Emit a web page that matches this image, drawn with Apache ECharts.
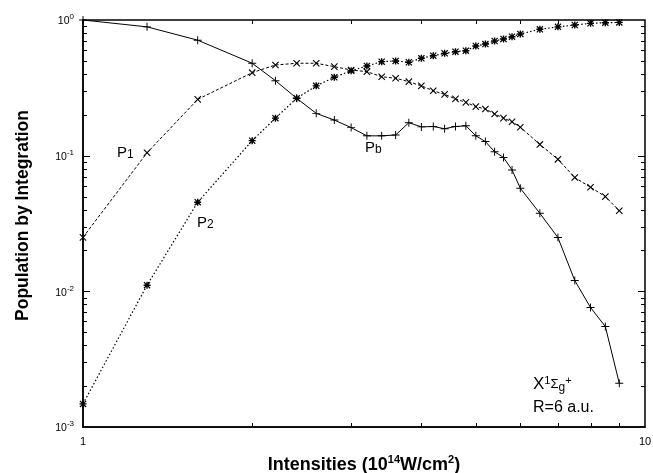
<!DOCTYPE html>
<html><head><meta charset="utf-8">
<script src="https://cdn.jsdelivr.net/npm/echarts@6/dist/echarts.min.js"></script>
<style>html,body{margin:0;padding:0;background:#fff}#c{width:653px;height:473px}</style>
</head><body><div id="c"></div>
<script>
// ---- data ----
const intensities = [1.0,1.3,1.6,2.0,2.2,2.4,2.6,2.8,3.0,3.2,3.4,3.6,3.8,4.0,4.2,4.4,4.6,4.8,5.0,5.2,5.4,5.6,5.8,6.0,6.5,7.0,7.5,8.0,8.5,9.0];
const pb = [1.0,0.89,0.71,0.48,0.357,0.265,0.205,0.183,0.161,0.140,0.140,0.142,0.175,0.163,0.164,0.158,0.164,0.166,0.140,0.127,0.107,0.097,0.0785,0.0575,0.0376,0.0249,0.0120,0.0076,0.0055,0.0021];
const p1 = [0.025,0.105,0.26,0.409,0.466,0.48,0.48,0.453,0.428,0.416,0.382,0.372,0.351,0.327,0.301,0.283,0.262,0.247,0.230,0.221,0.203,0.189,0.178,0.162,0.121,0.094,0.069,0.0585,0.0499,0.0393];
const p2 = [0.00148,0.0111,0.0454,0.129,0.189,0.265,0.327,0.378,0.423,0.458,0.493,0.499,0.488,0.522,0.546,0.568,0.584,0.594,0.643,0.665,0.70,0.725,0.753,0.789,0.854,0.89,0.919,0.945,0.955,0.96];
const xMinorTicks = [2,3,4,5,6,7,8,9];
const yMajorTicks = [0.01,0.1];
const yMinorTicks = [0.002,0.003,0.004,0.005,0.006,0.007,0.008,0.009,0.02,0.03,0.04,0.05,0.06,0.07,0.08,0.09,0.2,0.3,0.4,0.5,0.6,0.7,0.8,0.9];
const xTitle = '{t|Intensities (10}{s|14}{t|W/cm}{s|2}{t|)}';
const yTitle = 'Population by Integration';
const annotations = [
  {coord:[1.15,0.1047], text:'{m|P}{sub|1}'},
  {coord:[1.595,0.0319], text:'{m|P}{sub|2}'},
  {coord:[3.175,0.114], text:'{m|P}{sub|b}'},
  {coord:[6.32,0.00205], text:'{x|X}{sup|1}{g|Σ}{sub|g}{sup|+}'},
  {coord:[6.32,0.00139], text:'{r|R=6 a.u.}'}
];

const FONT = '"Liberation Sans", Arial, Helvetica, sans-serif';
const zip = (xs, ys) => xs.map((x, i) => [x, ys[i]]);

const plusPath = 'path://M0,44 L100,44 L100,56 L0,56 Z M44,0 L56,0 L56,100 L44,100 Z';
const starPath = 'path://M0,40 L100,40 L100,60 L0,60 Z M40,0 L60,0 L60,100 L40,100 Z M12,0 L100,88 L88,100 L0,12 Z M88,0 L100,12 L12,100 L0,88 Z';

function tickSeries(values, axis, len) {
  return {
    type: 'custom', silent: true, z: 5,
    data: values.map(v => axis === 'x' ? [v, 0.01] : [2, v]),
    renderItem: function (params, api) {
      const cs = params.coordSys;
      const p = api.coord([api.value(0), api.value(1)]);
      const st = {stroke: '#000', lineWidth: 1};
      if (axis === 'x') {
        const x = Math.round(p[0]) + 0.5;
        return {type: 'group', children: [
          {type: 'line', shape: {x1: x, y1: cs.y + cs.height, x2: x, y2: cs.y + cs.height - len}, style: st},
          {type: 'line', shape: {x1: x, y1: cs.y, x2: x, y2: cs.y + len}, style: st}
        ]};
      }
      const y = Math.round(p[1]) + 0.5;
      return {type: 'group', children: [
        {type: 'line', shape: {x1: cs.x, y1: y, x2: cs.x + len, y2: y}, style: st},
        {type: 'line', shape: {x1: cs.x + cs.width, y1: y, x2: cs.x + cs.width - len, y2: y}, style: st}
      ]};
    }
  };
}

const annRich = {
  m: {fontSize: 15, fontFamily: FONT, color: '#000', lineHeight: 16, verticalAlign: 'middle'},
  x: {fontSize: 17, fontFamily: FONT, color: '#000', lineHeight: 18, verticalAlign: 'middle'},
  g: {fontSize: 13, fontFamily: FONT, color: '#000', lineHeight: 14, verticalAlign: 'middle'},
  sub: {fontSize: 12, fontFamily: FONT, color: '#000', lineHeight: 12, verticalAlign: 'bottom'},
  sup: {fontSize: 11, fontFamily: FONT, color: '#000', lineHeight: 11, verticalAlign: 'top'},
  r: {fontSize: 16, fontFamily: FONT, color: '#000', lineHeight: 16}
};

const chart = echarts.init(document.getElementById('c'), null, {renderer: 'canvas'});
chart.setOption({
  animation: false,
  backgroundColor: '#fff',
  grid: {left: 83, top: 20, right: 8, bottom: 46, outerBoundsMode: 'none', containLabel: false,
         show: true, borderColor: '#000', borderWidth: 1.5, backgroundColor: 'transparent'},
  xAxis: {
    type: 'log', logBase: 10, min: 1, max: 10,
    axisLine: {show: true, lineStyle: {color: '#000', width: 1.5}},
    axisTick: {show: false},
    splitLine: {show: false},
    axisLabel: {color: '#000', fontSize: 11, fontFamily: FONT, margin: 9, showMinLabel: true, showMaxLabel: true},
    name: xTitle, nameLocation: 'middle', nameGap: 27,
    nameTextStyle: {rich: {
      t: {fontSize: 18, fontWeight: 'bold', fontFamily: FONT, color: '#000', lineHeight: 20, verticalAlign: 'bottom'},
      s: {fontSize: 11, fontWeight: 'bold', fontFamily: FONT, color: '#000', lineHeight: 11, verticalAlign: 'top'}
    }}
  },
  yAxis: {
    type: 'log', logBase: 10, min: 0.001, max: 1,
    axisLine: {show: true, lineStyle: {color: '#000', width: 1.5}},
    axisTick: {show: false},
    splitLine: {show: false},
    axisLabel: {
      margin: 9,
      formatter: function (v) { const e = Math.round(Math.log10(v)); return '{b|10}{s|' + e + '}'; },
      rich: {
        b: {fontSize: 10.5, fontFamily: FONT, color: '#000', lineHeight: 14, verticalAlign: 'bottom'},
        s: {fontSize: 8, fontFamily: FONT, color: '#000', lineHeight: 9, verticalAlign: 'top'}
      }
    },
    name: yTitle, nameLocation: 'middle', nameGap: 51,
    nameTextStyle: {fontSize: 17.5, fontWeight: 'bold', fontFamily: FONT, color: '#000', padding: [0, 0, 0, 16]}
  },
  series: [
    {
      name: 'Pb', type: 'line', data: zip(intensities, pb),
      symbol: plusPath, symbolSize: 8, showSymbol: true,
      lineStyle: {color: '#000', width: 1, type: 'solid'},
      itemStyle: {color: '#000'},
      markPoint: {
        symbol: 'circle', symbolSize: 0, silent: true,
        label: {show: true, position: [0, 0], align: 'left', verticalAlign: 'middle', formatter: p => p.data.text, rich: annRich},
        data: annotations.map(a => ({coord: a.coord, text: a.text, value: 0}))
      }
    },
    {
      name: 'P1', type: 'line', data: zip(intensities, p1),
      symbol: plusPath, symbolRotate: 45, symbolSize: 9, showSymbol: true,
      lineStyle: {color: '#000', width: 1, type: [3, 2]},
      itemStyle: {color: '#000'}
    },
    {
      name: 'P2', type: 'line', data: zip(intensities, p2),
      symbol: starPath, symbolSize: 7, showSymbol: true,
      lineStyle: {color: '#000', width: 1.2, type: [1.5, 2.2]},
      itemStyle: {color: '#000'}
    },
    tickSeries(xMinorTicks, 'x', 4),
    tickSeries(yMinorTicks, 'y', 4),
    tickSeries(yMajorTicks, 'y', 7)
  ]
});
</script></body></html>
